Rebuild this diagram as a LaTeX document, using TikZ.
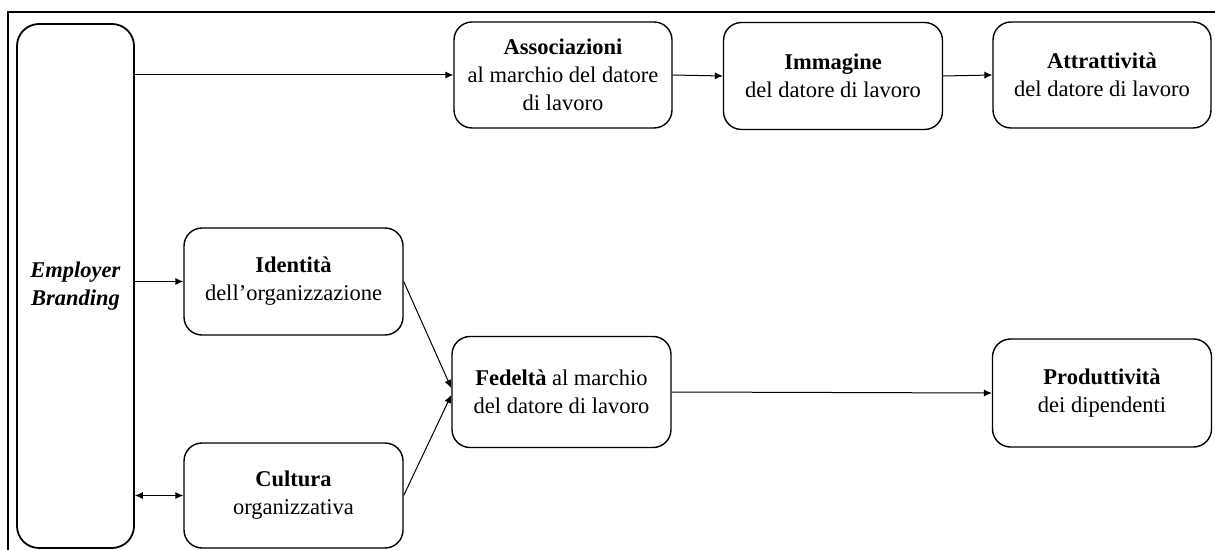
\documentclass[tikz,border=0pt]{standalone}
\usepackage{fontspec}
\setmainfont{Liberation Serif}
\usetikzlibrary{arrows.meta,calc}
\begin{document}
\begin{tikzpicture}[x=0.5pt,y=-0.5pt,
  box/.style={draw,line width=0.7pt,rounded corners=9pt,align=center,inner sep=0pt,
    font=\fontsize{11.25}{14}\selectfont},
  mainbox/.style={box,line width=0.9pt,rounded corners=11pt},
  arr/.style={line width=0.5pt,-{Latex[length=4pt,width=3.6pt]}},
  biarr/.style={line width=0.5pt,{Latex[length=4pt,width=3.6pt]}-{Latex[length=4pt,width=3.6pt]}}]
\useasboundingbox (0,0) rectangle (1215,550);
% outer frame (top and left edges)
\draw[line width=0.9pt] (1215,12) -- (8,12) -- (8,550);

% nodes
\node[mainbox,minimum width=117*0.5pt,minimum height=524*0.5pt] (eb) at (75.5,286)
  {\textbf{\textit{Employer}}\\\textbf{\textit{Branding}}};
\node[box,minimum width=218*0.5pt,minimum height=106*0.5pt] (assoc) at (563,75)
  {\textbf{Associazioni}\\al marchio del datore\\di lavoro};
\node[box,minimum width=219*0.5pt,minimum height=107*0.5pt] (imm) at (833,76)
  {\textbf{Immagine}\\del datore di lavoro};
\node[box,minimum width=218*0.5pt,minimum height=106*0.5pt] (attr) at (1102,75)
  {\textbf{Attrattività}\\del datore di lavoro};
\node[box,minimum width=219*0.5pt,minimum height=107*0.5pt] (ident) at (293.5,281.5)
  {\textbf{Identità}\\dell’organizzazione};
\node[box,minimum width=219*0.5pt,minimum height=105*0.5pt] (cult) at (293.5,495.5)
  {\textbf{Cultura}\\organizzativa};
\node[box,minimum width=219*0.5pt,minimum height=111*0.5pt] (fed) at (561.5,392)
  {\textbf{Fedeltà} al marchio\\del datore di lavoro};
\node[box,minimum width=219*0.5pt,minimum height=108*0.5pt] (prod) at (1102,393)
  {\textbf{Produttività}\\dei dipendenti};

% connectors
\draw[arr] (eb.east |- assoc.west) -- (assoc.west);
\draw[arr] (assoc.east) -- (imm.west);
\draw[arr] (imm.east) -- (attr.west);
\draw[arr] (eb.east |- ident.west) -- (ident.west);
\draw[biarr] (eb.east |- cult.west) -- (cult.west);
\draw[arr] (ident.east) -- ($(fed.west)+(0,-4)$);
\draw[arr] (cult.east) -- ($(fed.west)+(0,3)$);
\draw[arr] (fed.east) -- (prod.west);
\end{tikzpicture}
\end{document}
